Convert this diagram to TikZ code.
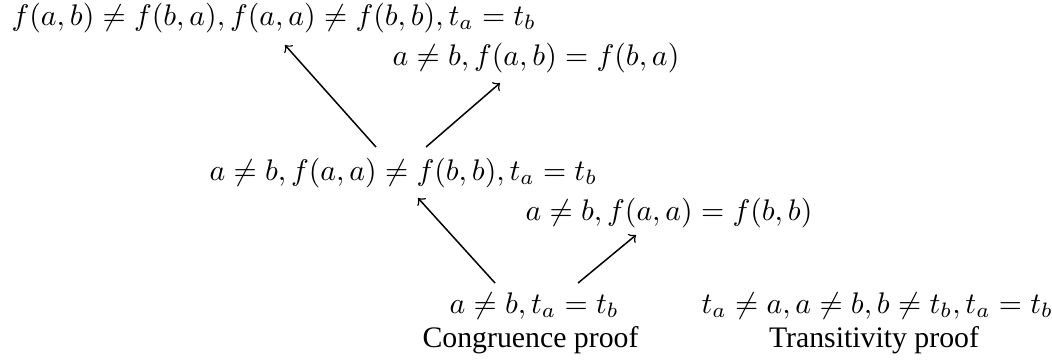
\documentclass[tikz,border=0pt]{standalone}
\usepackage[no-math]{fontspec}
\newfontfamily\tnr{Liberation Serif}
\usetikzlibrary{calc}
\begin{document}
\begin{tikzpicture}[x=0.3356pt,y=-0.3356pt,
  lbl/.style={inner sep=0pt,anchor=base west},
  captext/.style={inner sep=0pt,anchor=base,font=\tnr},
  edge/.style={->,line width=0.5pt}]
\useasboundingbox (0,0) rectangle (1052,360);
\node[lbl] (n1) at (11,25) {$f(a,b)\neq f(b,a), f(a,a)\neq f(b,b), t_a=t_b$};
\node[lbl] (n2) at (392,65) {$a\neq b, f(a,b)=f(b,a)$};
\node[lbl] (n3) at (209,180) {$a\neq b, f(a,a)\neq f(b,b), t_a=t_b$};
\node[lbl] (n4) at (525,220) {$a\neq b, f(a,a)=f(b,b)$};
\node[lbl] (n5) at (449,313) {$a\neq b, t_a=t_b$};
\node[lbl] (n6) at (701,313) {$t_a\neq a, a\neq b, b\neq t_b, t_a=t_b$};
\node[captext] (c1) at (530.5,347) {Congruence proof};
\node[captext] (c2) at (874,347) {Transitivity proof};
\draw[edge] ($(n3.base west)+(167,-33)$) -- ($(n1.base west)+(274,20)$);
\draw[edge] ($(n3.base west)+(217,-33)$) -- ($(n2.base west)+(108,18)$);
\draw[edge] ($(n5.base west)+(46,-30)$) -- ($(n3.base west)+(209,18)$);
\draw[edge] ($(n5.base west)+(129,-30)$) -- ($(n4.base west)+(111,15)$);
\end{tikzpicture}
\end{document}
